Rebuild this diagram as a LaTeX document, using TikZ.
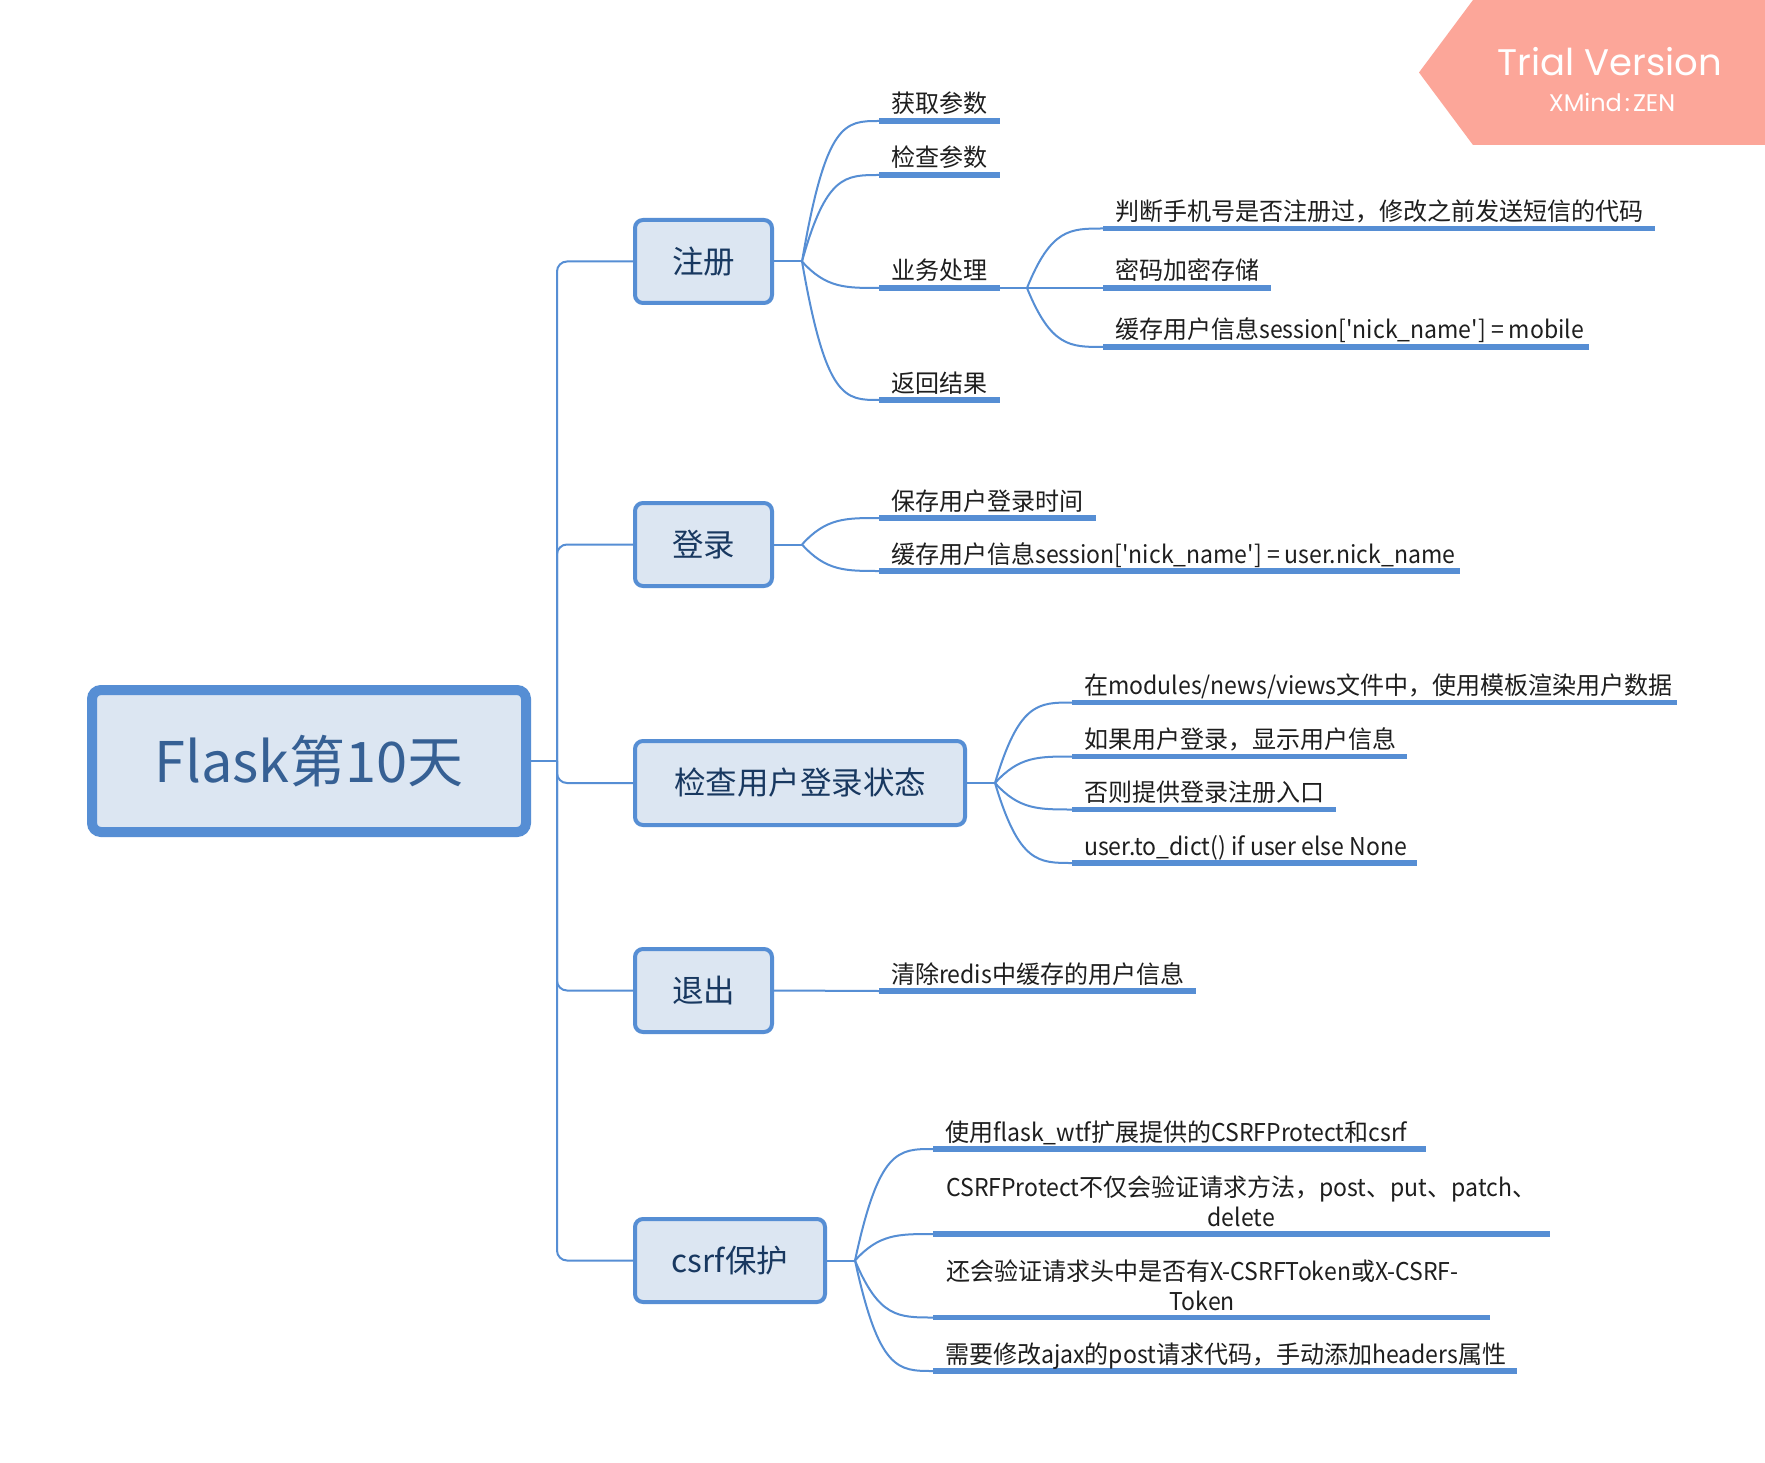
\documentclass[tikz,border=0pt]{standalone}
\usepackage{fontspec}
\setmainfont{Noto Sans CJK SC}[Ligatures=TeXOff]
\newfontfamily\leaffont{Noto Sans CJK SC}[Ligatures=TeXOff, FakeStretch=0.98]
\newfontfamily\latfont{Noto Sans CJK SC}[Ligatures=TeXOff, FakeStretch=0.94]
\newfontfamily\bannerfont{Poppins}
\usetikzlibrary{calc}

\definecolor{xline}{RGB}{86,142,212}
\definecolor{xfill}{RGB}{220,230,242}
\definecolor{roottext}{RGB}{54,96,148}
\definecolor{boxtext}{RGB}{24,56,96}
\definecolor{leaftext}{RGB}{30,30,30}
\definecolor{bannerc}{RGB}{252,166,153}

\newcommand\latn[1]{{\latfont #1}}
\newcommand\mkleaf[5]{%
  \coordinate (#1) at (#2,#3);
  \draw[ul] (#1) -- ++(#4,0) coordinate (#1e);
  \node[leaf] (#1t) at ($(#1)+(12,-8)$) {#5};}
\newcommand\brcurve[2]{%
  \draw[conn] (#1) .. controls ($(#1 |- #2)+(24,0)$) and ($(#1 |- #2)+(43,0)$) .. (#2);}

\begin{document}
\begin{tikzpicture}[x=1pt,y=-1pt,
  conn/.style={draw=xline, line width=2pt},
  ul/.style={draw=xline, line width=5.5pt},
  rootbox/.style={draw=xline, fill=xfill, line width=10pt, rounded corners=9pt,
    minimum width=434pt, minimum height=142pt, inner sep=0pt, text=roottext,
    font=\fontsize{56}{60}\selectfont},
  topic/.style={draw=xline, fill=xfill, line width=4pt, rounded corners=8pt,
    minimum height=83pt, inner sep=0pt, text=boxtext, font=\fontsize{31.5}{36}\selectfont},
  leaf/.style={anchor=base west, inner sep=0pt, text=leaftext, font=\leaffont\fontsize{24.5}{30}\selectfont},
  leafc/.style={anchor=base, inner sep=0pt, text=leaftext, font=\leaffont\fontsize{24.5}{30}\selectfont},
  bannertext/.style={inner sep=0pt, anchor=base, text=white},
]
\useasboundingbox[fill=white] (0,0) rectangle (1765,1463);

% trial banner
\fill[bannerc] (1419,72.5) -- (1473,0) -- (1765,0) -- (1765,145) -- (1473,145) -- cycle;
\node[bannertext, font=\bannerfont\fontsize{37}{40}\selectfont] (tv) at (1610,75.5) {Trial Version};
\node[bannertext, font=\bannerfont\fontsize{24}{26}\selectfont] (xz) at (1612,112) {XMind\kern3pt:\kern3pt ZEN};

% root and main topics
\node[rootbox] (root) at (309,761) {Flask第10天};
\node[topic, minimum width=137pt] (zc) at (703.5,261.5) {注册};
\node[topic, minimum width=137pt] (dl) at (703.5,544.5) {登录};
\node[topic, minimum width=330pt, minimum height=84pt] (jc) at (800,783) {检查用户登录状态};
\node[topic, minimum width=137pt] (tc) at (703.5,990.5) {退出};
\node[topic, minimum width=190pt] (cs) at (730,1260.5) {csrf保护};

\coordinate (J) at (557,761);
\draw[conn] (root.east) -- (J);
\draw[conn, rounded corners=10pt] (J) |- (zc.west);
\draw[conn, rounded corners=10pt] (J) |- (dl.west);
\draw[conn, rounded corners=10pt] (J) |- (jc.west);
\draw[conn, rounded corners=10pt] (J) |- (tc.west);
\draw[conn, rounded corners=10pt] (J) |- (cs.west);

% 注册
\coordinate (f1) at (802,261.5);
\draw[conn] (zc.east) -- (f1);
\mkleaf{a1}{879}{121}{121}{获取参数}
\mkleaf{a2}{879}{175}{121}{检查参数}
\mkleaf{a3}{879}{288}{121}{业务处理}
\mkleaf{a4}{879}{400}{121}{返回结果}
\brcurve{f1}{a1}\brcurve{f1}{a2}\brcurve{f1}{a3}\brcurve{f1}{a4}

% 业务处理
\coordinate (f2) at (1027,288);
\draw[conn] (a3e) -- (f2);
\mkleaf{b1}{1103}{228.5}{552}{判断手机号是否注册过，修改之前发送短信的代码}
\mkleaf{b2}{1103}{288}{168}{密码加密存储}
\mkleaf{b3}{1103}{347}{486}{缓存用户信息\latn{session['nick\_name'] = mobile}}
\brcurve{f2}{b1}\brcurve{f2}{b2}\brcurve{f2}{b3}

% 登录
\coordinate (f3) at (802,544.5);
\draw[conn] (dl.east) -- (f3);
\mkleaf{c1}{879}{518}{217}{保存用户登录时间}
\mkleaf{c2}{879}{571}{581}{缓存用户信息\latn{session['nick\_name'] = user.nick\_name}}
\brcurve{f3}{c1}\brcurve{f3}{c2}

% 检查用户登录状态
\coordinate (f4) at (995,783);
\draw[conn] (jc.east) -- (f4);
\mkleaf{d1}{1072}{702.5}{605}{在\latn{modules/news/views}文件中，使用模板渲染用户数据}
\mkleaf{d2}{1072}{756.5}{335}{如果用户登录，显示用户信息}
\mkleaf{d3}{1072}{809.5}{264}{否则提供登录注册入口}
\mkleaf{d4}{1072}{863}{345}{\latn{user.to\_dict() if user else None}}
\brcurve{f4}{d1}\brcurve{f4}{d2}\brcurve{f4}{d3}\brcurve{f4}{d4}

% 退出
\mkleaf{e1}{879}{991}{317}{清除\latn{redis}中缓存的用户信息}
\draw[conn] (tc.east) -- (e1);

% csrf保护
\coordinate (f5) at (855,1260.5);
\draw[conn] (cs.east) -- (f5);
\mkleaf{g1}{933}{1149}{493}{使用\latn{flask\_wtf}扩展提供的\latn{CSRFProtect}和\latn{csrf}}
\coordinate (g2) at (933,1234);
\draw[ul] (g2) -- ++(617,0);
\node[leaf] (g2a) at ($(g2)+(13,-38)$) {\latn{CSRFProtect}不仅会验证请求方法，\latn{post}、\latn{put}、\latn{patch}、};
\node[leafc] (g2b) at ($(g2a.base)+(0,30)$) {\latn{delete}};
\coordinate (g3) at (933,1317.5);
\draw[ul] (g3) -- ++(557,0);
\node[leaf] (g3a) at ($(g3)+(13,-37.5)$) {还会验证请求头中是否有\latn{X-CSRFToken}或\latn{X-CSRF-}};
\node[leafc] (g3b) at ($(g3a.base)+(0,30)$) {\latn{Token}};
\mkleaf{g4}{933}{1371}{584}{需要修改\latn{ajax}的\latn{post}请求代码，手动添加\latn{headers}属性}
\brcurve{f5}{g1}\brcurve{f5}{g2}\brcurve{f5}{g3}\brcurve{f5}{g4}
\end{tikzpicture}
\end{document}
